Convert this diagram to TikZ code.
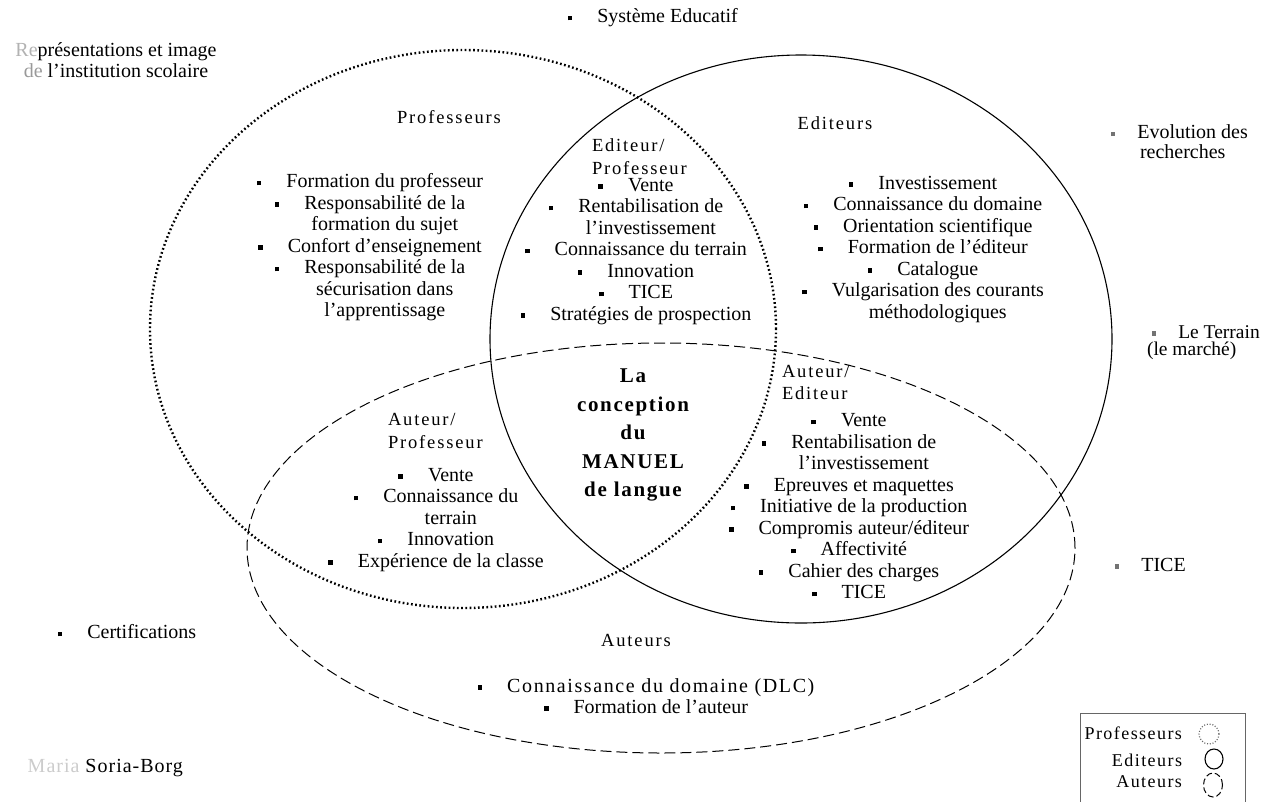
\documentclass[tikz,border=0pt]{standalone}
\usepackage{fontspec}
\setmainfont{Liberation Serif}
\usetikzlibrary{shapes.geometric}
\newcommand\bul{\raisebox{2.6pt}{\rule{4.6pt}{4.6pt}}\hspace{25pt}}
\newcommand\gbul{\raisebox{2.6pt}{\textcolor{black!55}{\rule{4.6pt}{4.6pt}}}\hspace{22pt}}
\newcommand\cont{\hphantom{\bul}}
\begin{document}
\begin{tikzpicture}[x=1pt,y=-1pt,
  every node/.style={inner sep=0pt, outer sep=0pt, font=\fontsize{20}{21.5}\selectfont},
  lst/.style={align=center},
  ttl/.style={font=\fontsize{18.5}{22.5}\selectfont\addfontfeature{LetterSpace=10}},
  ctr/.style={align=center, font=\fontsize{21}{28.5}\selectfont\bfseries\addfontfeature{LetterSpace=8}},
  lgd/.style={anchor=east, font=\fontsize{18}{20}\selectfont\addfontfeature{LetterSpace=8}},
  dotline/.style={line width=2.4pt, dash pattern=on 1.7pt off 2.5pt},
  dashline/.style={line width=1pt, dash pattern=on 11pt off 5pt},
  solidline/.style={line width=1.1pt},
  set/.style={ellipse, draw, inner sep=0pt}]
\useasboundingbox (0,0) rectangle (1266,801);

% the three sets
\node[set, dotline, minimum width=626pt, minimum height=558pt] (prof) at (463,329) {};
\node[set, solidline, minimum width=622pt, minimum height=568pt] (edit) at (801,339) {};
\node[set, dashline, minimum width=828pt, minimum height=410pt] (aut) at (661,548) {};

% set titles
\node[ttl] (tprof) at (449,117) {Professeurs};
\node[ttl] (tedit) at (835,123) {Editeurs};
\node[ttl] (taut) at (636,640) {Auteurs};
\node[ttl, align=left, anchor=west] (tep) at (592,156.5) {Editeur/\\Professeur};
\node[ttl, align=left, anchor=west] (tap) at (388,431) {Auteur/\\Professeur};
\node[ttl, align=left, anchor=west] (tae) at (782,382.5) {Auteur/\\Editeur};

% centre
\node[ctr] (centre) at (633,435) {La\\conception\\du\\MANUEL\\de langue};

% lists
\node[lst] (lprof) at (370,247.5) {\bul Formation du professeur\\
\bul Responsabilité de la\\
\cont formation du sujet\\
\bul Confort d'enseignement\\
\bul Responsabilité de la\\
\cont sécurisation dans\\
\cont l'apprentissage};

\node[lst] (lep) at (636,251.5) {\bul Vente\\
\bul Rentabilisation de\\
\cont l'investissement\\
\bul Connaissance du terrain\\
\bul Innovation\\
\bul TICE\\
\bul Stratégies de prospection};

\node[lst] (ledit) at (923,249.5) {\bul Investissement\\
\bul Connaissance du domaine\\
\bul Orientation scientifique\\
\bul Formation de l'éditeur\\
\bul Catalogue\\
\bul Vulgarisation des courants\\
\cont méthodologiques};

\node[lst] (lap) at (436,520) {\bul Vente\\
\bul Connaissance du\\
\cont terrain\\
\bul Innovation\\
\bul Expérience de la classe};

\node[lst] (lae) at (849,506.5) {\bul Vente\\
\bul Rentabilisation de\\
\cont l'investissement\\
\bul Epreuves et maquettes\\
\bul Initiative de la production\\
\bul Compromis auteur/éditeur\\
\bul Affectivité\\
\bul Cahier des charges\\
\bul TICE};

\node[lst] (laut) at (646,696) {{\addfontfeature{LetterSpace=8}\bul Connaissance du domaine (DLC)}\\
\bul Formation de l'auteur};

% outside factors
\node[anchor=west] (sys) at (567.7,18) {\bul Système Educatif};
\node[align=center] (rep) at (116,60) {\textcolor{black!30}{Re}présentations et image\\\textcolor{black!40}{de} l'institution scolaire};
\node[anchor=west] (evo) at (1110.7,132) {\gbul Evolution des};
\node[anchor=west] (evo2) at (1140,152) {recherches};
\node[anchor=west, font=\fontsize{19.5}{21}\selectfont] (ter) at (1151.7,332) {\gbul Le Terrain};
\node[anchor=west, font=\fontsize{19.5}{21}\selectfont] (ter2) at (1147,351) {(le marché)};
\node[anchor=west] (tice) at (1114.7,565) {\gbul TICE};
\node[anchor=west] (cert) at (57.7,632) {\bul Certifications};
\node[anchor=east, font=\fontsize{20}{22}\selectfont\addfontfeature{LetterSpace=5}] (auth) at (183,768) {\textcolor{black!20}{Maria} Soria-Borg};

% legend
\node[draw=black!60, line width=0.8pt, minimum width=165pt, minimum height=100pt, anchor=north west] (legend) at (1080,713) {};
\node[lgd] (lgp) at (1182,733) {Professeurs};
\node[lgd] (lge) at (1182,760) {Editeurs};
\node[lgd] (lga) at (1182,782) {Auteurs};
\node[set, line width=1.2pt, dash pattern=on 1pt off 1.8pt, draw=black!60, minimum width=20pt, minimum height=20pt] (cp) at (1209,734) {};
\node[set, line width=1.1pt, minimum width=18pt, minimum height=20pt] (ce) at (1214,759) {};
\node[set, line width=1pt, dash pattern=on 6pt off 3pt, minimum width=19pt, minimum height=24pt] (ca) at (1213,785) {};
\end{tikzpicture}
\end{document}
